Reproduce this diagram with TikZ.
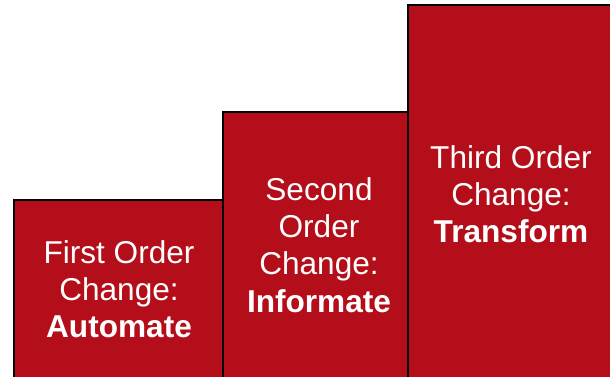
\documentclass[tikz,border=0pt]{standalone}
\usepackage{fontspec}
\setmainfont{Liberation Sans}
\definecolor{boxred}{RGB}{179,14,26}
\tikzset{
  stepbox/.style={fill=boxred, draw=black, line width=1.6pt},
  steptext/.style={text=white, align=center, font=\fontsize{31.6}{37.2}\selectfont, inner sep=0pt}
}
\begin{document}
\begin{tikzpicture}[x=1pt,y=1pt]
\useasboundingbox (0,0) rectangle (610,376);
\clip (0,0) rectangle (610,376);
\draw[stepbox] (14,-10) rectangle (223,176);
\draw[stepbox] (223,-10) rectangle (408,264);
\draw[stepbox] (408,-10) rectangle (614,371);
\node[steptext] (t1) at (119,87) {First Order\\Change:\\\textbf{Automate}};
\node[steptext] (t2) at (319,131) {Second\\Order\\Change:\\\textbf{Informate}};
\node[steptext] (t3) at (511,182) {Third Order\\Change:\\\textbf{Transform}};
\end{tikzpicture}
\end{document}
